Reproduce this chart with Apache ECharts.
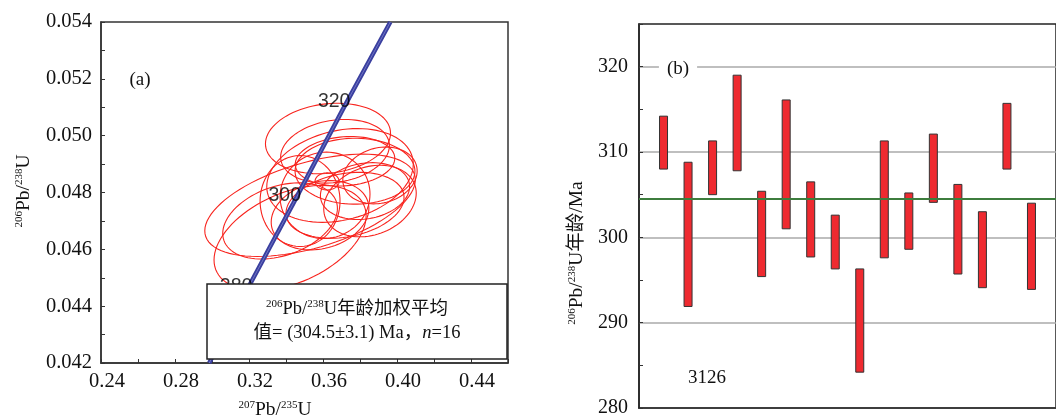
<!DOCTYPE html>
<html lang="zh">
<head>
  <meta charset="UTF-8">
  <title>U-Pb</title>
  <script src="https://cdn.jsdelivr.net/npm/echarts/dist/echarts.min.js"></script>
  <style>body{margin:0;background:#fff}</style>
</head>
<body>
<div id="chart" style="width: 1056px;height: 418px;"></div>
<script>
  // (a) 谐和图：椭圆 [207Pb/235U, 206Pb/238U, 2σx, 2σy, rho]
  let ellipses = [
    [0.3627, 0.04990, 0.0338, 0.001240, 0.15],
    [0.3665, 0.04945, 0.0294, 0.001120, 0.18],
    [0.3719, 0.04910, 0.0269, 0.000870, 0.12],
    [0.3530, 0.04755, 0.0569, 0.001800, 0.50],
    [0.3422, 0.04640, 0.0411, 0.001850, 0.42],
    [0.3692, 0.04860, 0.0396, 0.001650, 0.24],
    [0.3773, 0.04875, 0.0324, 0.001160, 0.00],
    [0.3611, 0.04790, 0.0243, 0.001520, 0.03],
    [0.3476, 0.04770, 0.0216, 0.001600, 0.00],
    [0.3827, 0.04805, 0.0241, 0.001000, 0.16],
    [0.3622, 0.04839, 0.0065, 0.000300, 0.00],
    [0.3908, 0.04860, 0.0201, 0.001000, 0.16],
    [0.3584, 0.04720, 0.0264, 0.001220, 0.20],
    [0.3719, 0.04755, 0.0319, 0.001160, 0.24],
    [0.3854, 0.04770, 0.0250, 0.001260, 0.22],
    [0.3368, 0.04700, 0.0310, 0.001340, 0.33]
  ]
  // 谐和线
  let concordia = [[0.2985, 0.0420], [0.3175, 0.0444], [0.3438, 0.0476], [0.3705, 0.0509], [0.3964, 0.0540]]
  let ageMarks = [[0.3175, 0.0444, '280'], [0.3438, 0.0476, '300'], [0.3705, 0.0509, '320']]

  // (b) 年龄
  let spotNo = [1, 2, 3, 4, 5, 6, 7, 8, 9, 10, 11, 12, 13, 14, 15, 16]
  let ageLow = [308.0, 291.9, 305.0, 307.8, 295.4, 301.0, 297.7, 296.3, 284.2, 297.6, 298.6, 304.1, 295.7, 294.1, 308.0, 293.9]
  let ageHigh = [314.2, 308.8, 311.3, 319.0, 305.4, 316.1, 306.5, 302.6, 296.3, 311.3, 305.2, 312.1, 306.2, 303.0, 315.7, 304.0]
  let meanAge = 304.5

  let serif = "'Liberation Serif', 'Noto Sans CJK SC', serif"
  let supRich = {s: {fontSize: 11, fontFamily: serif, verticalAlign: 'top', lineHeight: 20}}

  function renderEllipse(params, api) {
    let cx = api.value(0), cy = api.value(1), sx = api.value(2), sy = api.value(3), r = api.value(4)
    let pts = []
    for (let k = 0; k <= 90; k++) {
      let t = k / 90 * Math.PI * 2
      let u = Math.cos(t), v = Math.sin(t)
      pts.push(api.coord([cx + sx * u, cy + sy * (r * u + Math.sqrt(1 - r * r) * v)]))
    }
    return {type: 'polygon', shape: {points: pts}, style: {fill: 'none', stroke: '#f8241e', lineWidth: 1.1}}
  }

  function renderBar(params, api) {
    let top = api.coord([api.value(0), api.value(2)])
    let bot = api.coord([api.value(0), api.value(1)])
    return {
      type: 'rect',
      shape: {x: top[0] - 4, y: top[1], width: 8, height: bot[1] - top[1]},
      style: {fill: '#ee2a30', stroke: '#333', lineWidth: 1}
    }
  }

  let myChart = echarts.init(document.getElementById('chart'))
  let option = {
    animation: false,
    grid: [
      {left: 101, top: 22, width: 407, height: 341, show: true, borderColor: '#333', borderWidth: 1.5},
      {left: 639, top: 24, width: 428, height: 391, show: true, borderColor: '#222', borderWidth: 1.5}
    ],
    xAxis: [
      {
        type: 'value', gridIndex: 0, min: 0.24, max: 0.46, interval: 0.02,
        axisLine: {lineStyle: {color: '#333', width: 1.5}},
        axisTick: {inside: true, length: 4, lineStyle: {color: '#333'}},
        splitLine: {show: false},
        axisLabel: {
          color: '#111', fontSize: 20.5, fontFamily: serif, margin: 8, padding: [0, 0, 0, 12],
          formatter: v => (Math.round(v * 100) % 4 === 0 && v < 0.45) ? v.toFixed(2) : ''
        }
      },
      {
        type: 'value', gridIndex: 1, min: 0, max: 17,
        axisLine: {lineStyle: {color: '#222', width: 1.5}},
        axisTick: {show: false}, axisLabel: {show: false}, splitLine: {show: false}
      }
    ],
    yAxis: [
      {
        type: 'value', gridIndex: 0, min: 0.042, max: 0.054, interval: 0.001,
        axisLine: {lineStyle: {color: '#333', width: 1.5}},
        axisTick: {inside: true, length: 4, lineStyle: {color: '#333'}},
        splitLine: {show: false},
        axisLabel: {
          color: '#111', fontSize: 20.5, fontFamily: serif, margin: 9,
          formatter: v => Math.round(v * 1000) % 2 === 0 ? v.toFixed(3) : ''
        }
      },
      {
        type: 'value', gridIndex: 1, min: 280, max: 325, interval: 5,
        axisLine: {lineStyle: {color: '#222', width: 1.5}},
        axisTick: {inside: true, length: 4, lineStyle: {color: '#333'}},
        splitLine: {show: true, lineStyle: {color: ['#aaa', 'rgba(0,0,0,0)'], width: 1.5}},
        axisLabel: {
          color: '#111', fontSize: 20, fontFamily: serif, margin: 11,
          formatter: v => Math.round(v) % 10 === 0 ? String(v) : ''
        }
      }
    ],
    series: [
      {
        type: 'custom', xAxisIndex: 0, yAxisIndex: 0, renderItem: renderEllipse,
        data: ellipses, z: 3
      },
      {
        type: 'line', xAxisIndex: 0, yAxisIndex: 0, data: concordia, symbol: 'none',
        lineStyle: {color: '#3a3f9f', width: 4.5}, z: 4
      },
      {
        type: 'line', xAxisIndex: 0, yAxisIndex: 0, data: concordia, symbol: 'none',
        lineStyle: {color: '#7075c4', width: 1}, z: 5
      },
      {
        type: 'scatter', xAxisIndex: 0, yAxisIndex: 0, data: ageMarks, symbolSize: 0, z: 6,
        label: {
          show: true, position: 'left', offset: [13, -8], color: '#000',
          fontSize: 19.5, fontFamily: "'Liberation Sans', Arial, sans-serif",
          formatter: p => p.data[2]
        }
      },
      {
        type: 'custom', xAxisIndex: 1, yAxisIndex: 1, renderItem: renderBar, z: 3,
        data: spotNo.map((n, k) => [n, ageLow[k], ageHigh[k]])
      },
      {
        type: 'line', xAxisIndex: 1, yAxisIndex: 1, data: [], z: 4,
        markLine: {
          silent: true, symbol: 'none', label: {show: false},
          lineStyle: {color: '#3d7d3d', width: 2, type: 'solid'},
          data: [{yAxis: meanAge}]
        }
      }
    ],
    graphic: [
      {type: 'text', x: 140, y: 80, z: 50, style: {text: '(a)', fontSize: 19, fontFamily: serif, fill: '#111', align: 'center', verticalAlign: 'middle'}},
      {type: 'text', x: 678, y: 69, z: 50, style: {text: '(b)', fontSize: 19, fontFamily: serif, fill: '#111', align: 'center', verticalAlign: 'middle', backgroundColor: '#fff', padding: [2, 8]}},
      {type: 'text', x: 707, y: 378, z: 50, style: {text: '3126', fontSize: 19, fontFamily: serif, fill: '#111', align: 'center', verticalAlign: 'middle'}},
      {
        type: 'text', x: 24, y: 191, rotation: Math.PI / 2, z: 50,
        style: {text: '{s|206}Pb/{s|238}U', rich: supRich, fontSize: 19.5, fontFamily: serif, fill: '#111', align: 'center', verticalAlign: 'middle'}
      },
      {
        type: 'text', x: 577, y: 253, rotation: Math.PI / 2, z: 50,
        style: {text: '{s|206}Pb/{s|238}U年龄/Ma', rich: supRich, fontSize: 19.5, fontFamily: serif, fill: '#111', align: 'center', verticalAlign: 'middle'}
      },
      {
        type: 'text', x: 275, y: 410, z: 50,
        style: {text: '{s|207}Pb/{s|235}U', rich: supRich, fontSize: 19.5, fontFamily: serif, fill: '#111', align: 'center', verticalAlign: 'middle'}
      },
      // 加权平均值说明框
      {
        type: 'rect', z: 100, shape: {x: 207, y: 284, width: 300, height: 75},
        style: {fill: '#fff', stroke: '#222', lineWidth: 1.5}
      },
      {
        type: 'text', x: 357, y: 309, z: 101,
        style: {text: '{s|206}Pb/{s|238}U年龄加权平均', rich: supRich, fontSize: 18.5, fontFamily: serif, fill: '#111', align: 'center', verticalAlign: 'middle'}
      },
      {
        type: 'text', x: 357, y: 333, z: 101,
        style: {
          text: '值= (304.5±3.1) Ma，{i|n}=16', fontSize: 18.5, fontFamily: serif, fill: '#111', align: 'center', verticalAlign: 'middle',
          rich: {i: {fontSize: 18.5, fontFamily: serif, fontStyle: 'italic'}}
        }
      }
    ]
  }
  myChart.setOption(option)
</script>
</body>
</html>
